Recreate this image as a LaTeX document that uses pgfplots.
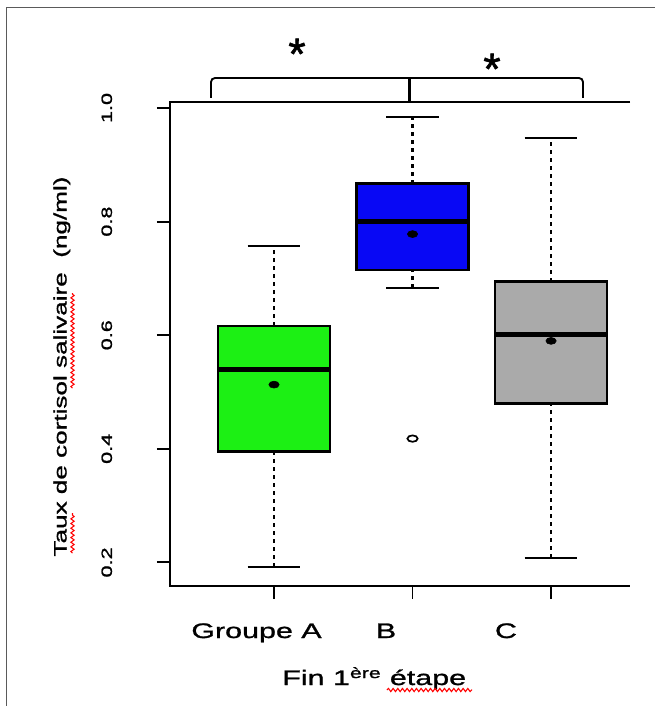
\documentclass[border=0pt]{standalone}
\usepackage{fontspec}
\setmainfont{Liberation Sans}[FakeStretch=1.45, FakeBold=1.2]
\newfontfamily\plainfont{Liberation Sans}[FakeBold=1.5]
\usepackage{pgfplots}
\pgfplotsset{compat=1.18}
\usetikzlibrary{decorations.pathmorphing}
\definecolor{boxgreen}{RGB}{28,240,20}
\definecolor{boxblue}{RGB}{8,8,245}
\definecolor{boxgray}{RGB}{170,170,170}
\definecolor{framegray}{RGB}{90,90,90}
\begin{document}
\begin{tikzpicture}
\path[use as bounding box] (0,0) rectangle (491.25pt,-529.5pt);
\begin{axis}[
  at={(127.5pt,-439.275pt)}, anchor=south west,
  scale only axis, width=345pt, height=363pt,
  xmin=0.249, xmax=3.570, ymin=0.159, ymax=1.0111,
  clip=false,
  axis line style={draw=none},
  xtick={1,2,3}, xticklabels={},
  ytick={0.2,0.4,0.6,0.8,1.0},
  xtick pos=bottom, ytick pos=left,
  tick align=outside,
  major tick length=9.75pt,
  major tick style={black, line width=1.4pt},
  /pgf/number format/assume math mode=true,
  yticklabel={\pgfmathprintnumber[fixed,fixed zerofill,precision=1]{\tick}},
  yticklabel style={rotate=90, anchor=south, inner sep=0pt,
    font=\fontsize{11.2}{12}\selectfont},
  yticklabel shift=33.5pt,
]
% axis lines (left, bottom, top)
\draw[line width=1.5pt] (rel axis cs:1,1) -- (rel axis cs:0,1) -- (rel axis cs:0,0) -- (rel axis cs:1,0);
% whiskers
\addplot[line width=2pt, dash pattern=on 3pt off 3pt] coordinates {(1,0.192) (1,0.395)};
\addplot[line width=2pt, dash pattern=on 3pt off 3pt] coordinates {(1,0.616) (1,0.757)};
\addplot[line width=2pt, dash pattern=on 3pt off 3pt] coordinates {(2,0.683) (2,0.715)};
\addplot[line width=2pt, dash pattern=on 3pt off 3pt] coordinates {(2,0.867) (2,0.984)};
\addplot[line width=2pt, dash pattern=on 3pt off 3pt] coordinates {(3,0.208) (3,0.480)};
\addplot[line width=2pt, dash pattern=on 3pt off 3pt] coordinates {(3,0.694) (3,0.947)};
% caps
\addplot[line width=1.7pt] coordinates {(0.81,0.192) (1.19,0.192)};
\addplot[line width=1.7pt] coordinates {(0.81,0.757) (1.19,0.757)};
\addplot[line width=1.7pt] coordinates {(1.81,0.683) (2.19,0.683)};
\addplot[line width=1.7pt] coordinates {(1.81,0.984) (2.19,0.984)};
\addplot[line width=1.7pt] coordinates {(2.81,0.208) (3.19,0.208)};
\addplot[line width=1.7pt] coordinates {(2.81,0.947) (3.19,0.947)};
% boxes
\addplot[draw=black, line width=2pt, fill=boxgreen] coordinates {(0.595,0.395) (1.405,0.395) (1.405,0.616) (0.595,0.616)} -- cycle;
\addplot[draw=black, line width=2pt, fill=boxblue] coordinates {(1.595,0.715) (2.405,0.715) (2.405,0.867) (1.595,0.867)} -- cycle;
\addplot[draw=black, line width=2pt, fill=boxgray] coordinates {(2.595,0.480) (3.405,0.480) (3.405,0.694) (2.595,0.694)} -- cycle;
% medians
\addplot[line width=3.4pt] coordinates {(0.595,0.540) (1.405,0.540)};
\addplot[line width=3.4pt] coordinates {(1.595,0.800) (2.405,0.800)};
\addplot[line width=3.4pt] coordinates {(2.595,0.601) (3.405,0.601)};
% means
\addplot[only marks, mark=*, mark size=2.6pt, mark options={xscale=1.5, fill=black, draw=black}] coordinates {(1,0.513) (2,0.778) (3,0.590)};
% outlier
\addplot[only marks, mark=o, mark size=2.4pt, mark options={xscale=1.6, line width=1.3pt, draw=black}] coordinates {(2,0.418)};
\end{axis}
\begin{scope}[x=0.75pt, y=-0.75pt]
% frame
\draw[framegray, line width=1.2pt] (6.5,706) -- (6.5,7.5) -- (655,7.5);
% brackets
\draw[line width=1.4pt, rounded corners=3pt] (211,98) -- (211,78) -- (583,78) -- (583,98);
\draw[line width=2.4pt] (409.5,78) -- (409.5,101);
\node[anchor=base, inner sep=0pt, font=\plainfont\fontsize{33}{34}\selectfont] at (297,69) {*};
\node[anchor=base, inner sep=0pt, font=\plainfont\fontsize{33}{34}\selectfont] at (492,84) {*};
% x category labels
\node[anchor=base, inner sep=0pt, font=\fontsize{15.75}{18}\selectfont] at (256.5,638) {Groupe A};
\node[anchor=base, inner sep=0pt, font=\fontsize{15.75}{18}\selectfont] at (386,638) {B};
\node[anchor=base, inner sep=0pt, font=\fontsize{15.75}{18}\selectfont] at (506,638) {C};
% x label
\node[anchor=base west, inner sep=0pt, font=\fontsize{15.75}{18}\selectfont] at (282,685) {Fin 1\textsuperscript{ère} étape};
% y label
\node[rotate=90, anchor=base, inner sep=0pt, font=\fontsize{13.5}{15}\selectfont] at (66.5,366.5) {Taux de cortisol salivaire~ (ng/ml)};
% spell-check squiggles
\draw[red, line width=0.8pt, decorate, decoration={snake, amplitude=1.2pt, segment length=3.5pt}] (72.5,553) -- (72.5,513);
\draw[red, line width=0.8pt, decorate, decoration={snake, amplitude=1.2pt, segment length=3.5pt}] (72.5,388) -- (72.5,293);
\draw[red, line width=0.8pt, decorate, decoration={snake, amplitude=1.2pt, segment length=3.5pt}] (387,690) -- (472,690);
\end{scope}
\end{tikzpicture}
\end{document}
